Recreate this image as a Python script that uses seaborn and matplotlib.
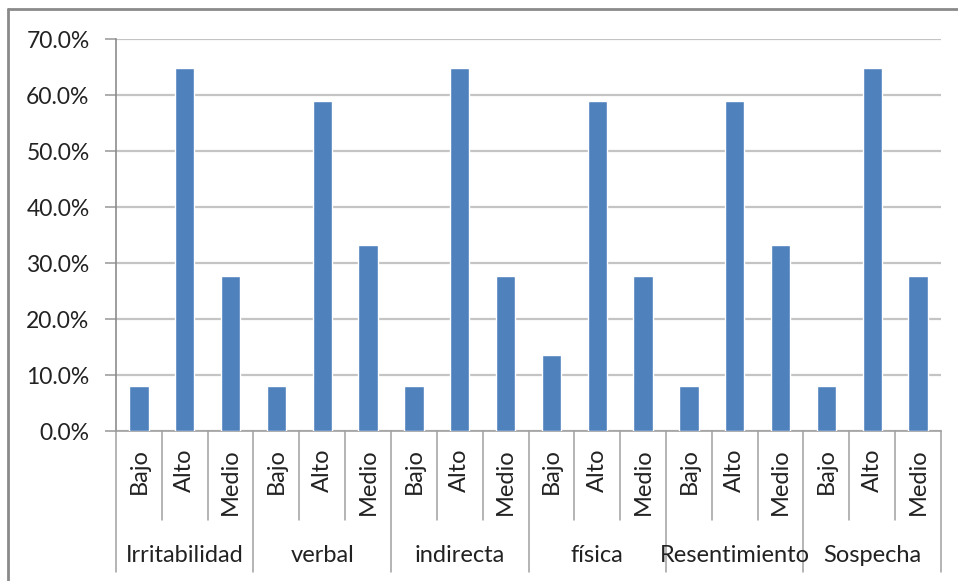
import pandas as pd
import matplotlib
matplotlib.use("Agg")
import matplotlib.pyplot as plt
import seaborn as sns
from matplotlib.lines import Line2D
from matplotlib.ticker import PercentFormatter

# datos
grupos = ["Irritabilidad", "verbal", "indirecta", "física", "Resentimiento", "Sospecha"]
niveles = ["Bajo", "Alto", "Medio"]
irritabilidad = [0.080, 0.648, 0.276]
verbal = [0.080, 0.590, 0.332]
indirecta = [0.080, 0.648, 0.276]
fisica = [0.136, 0.590, 0.276]
resentimiento = [0.080, 0.590, 0.332]
sospecha = [0.080, 0.648, 0.276]
y_ticks = [0.0, 0.1, 0.2, 0.3, 0.4, 0.5, 0.6, 0.7]

series = [irritabilidad, verbal, indirecta, fisica, resentimiento, sospecha]
filas = []
for g, vals in zip(grupos, series):
    for n, v in zip(niveles, vals):
        filas.append({"grupo": g, "nivel": n, "clave": g + "-" + n, "valor": v})
df = pd.DataFrame(filas)

sns.set_style("white")
plt.rcParams["font.family"] = ["Lato", "DejaVu Sans"]

fig = plt.figure(figsize=(9.58, 5.81), dpi=100)
ax = fig.add_axes([116 / 958, 1 - 431 / 581, (941 - 116) / 958, (431 - 39) / 581])

sns.barplot(data=df, x="clave", y="valor", order=list(df["clave"]),
            color="#4f81bd", saturation=1, width=0.42, ax=ax, zorder=3)

ax.set_ylim(0, 0.7)
ax.set_xlim(-0.5, len(df) - 0.5)
ax.set_yticks(y_ticks)
ax.yaxis.set_major_formatter(PercentFormatter(1, decimals=1))
ax.tick_params(axis="y", labelsize=16.5, length=8, width=1.2, color="#a0a0a0",
               pad=11, labelcolor="#222222", left=True)
ax.yaxis.grid(True, color="#c4c4c4", linewidth=1.6, zorder=0)
ax.set_axisbelow(True)
ax.set_xticks([])
ax.set_xlabel("")
ax.set_ylabel("")
for s in ["top", "right"]:
    ax.spines[s].set_visible(False)
ax.spines["left"].set_color("#8c8c8c")
ax.spines["left"].set_linewidth(1.2)
ax.spines["bottom"].set_color("#a0a0a0")
ax.spines["bottom"].set_linewidth(1.2)

# eje de categorias de dos niveles
tr = ax.get_xaxis_transform()
alto_px = 431 - 39
for i in range(len(df) + 1):
    fondo = 572 if i % 3 == 0 else 520
    ax.plot([i - 0.5, i - 0.5], [0, -(fondo - 431) / alto_px], transform=tr,
            color="#a0a0a0", lw=1.1, clip_on=False)
for i, n in enumerate(df["nivel"]):
    ax.text(i, -(448 - 431) / alto_px, n, transform=tr, rotation=90,
            ha="center", va="top", fontsize=17, color="#222222")
for k, g in enumerate(grupos):
    ax.text(3 * k + 1, -(555 - 431) / alto_px, g, transform=tr,
            ha="center", va="center", fontsize=17, color="#222222")

# marco del grafico
fig.add_artist(Line2D([8 / 958, 8 / 958], [0, 1 - 9 / 581], color="#8a8a8a", lw=2))
fig.add_artist(Line2D([8 / 958, 1], [1 - 9 / 581, 1 - 9 / 581], color="#8a8a8a", lw=2))

fig.savefig("out.png", dpi=100)
